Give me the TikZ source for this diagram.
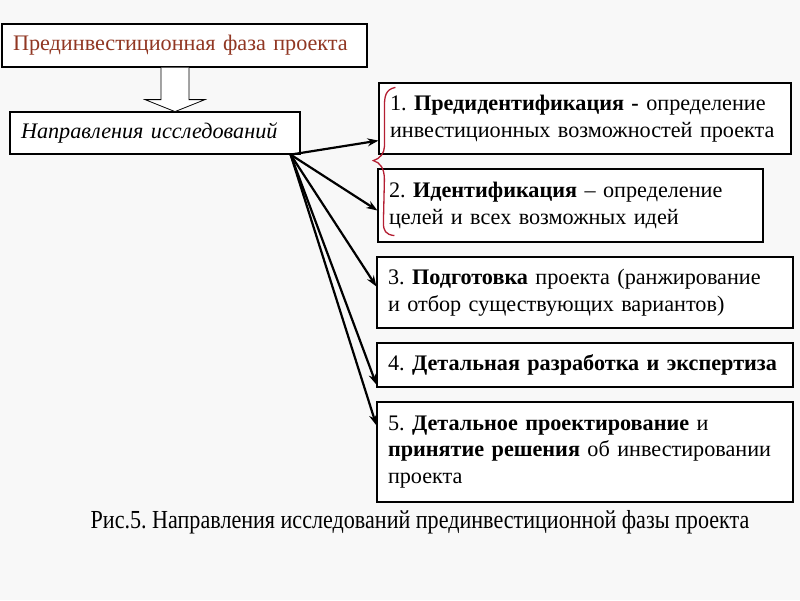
\documentclass[tikz,border=0pt]{standalone}
\usepackage{fontspec}
\setmainfont{Liberation Serif}
\newfontfamily\capfont[FakeStretch=0.85]{Liberation Serif}
\usetikzlibrary{arrows.meta}
\definecolor{bgc}{RGB}{248,248,248}
\definecolor{titlec}{RGB}{145,55,35}
\definecolor{bracec}{RGB}{180,30,50}
\tikzset{
  box/.style={draw=black, line width=1.2pt, fill=white, rectangle, inner xsep=11pt, inner ysep=0pt, align=left, font=\frenchspacing\fontsize{22.2}{26.5}\selectfont},
  conn/.style={line width=2.2pt, -{Stealth[length=11pt,width=8pt]}},
}
\begin{document}
\begin{tikzpicture}[x=1pt,y=-1pt]
\fill[bgc] (0,0) rectangle (800,600);
\useasboundingbox (0,0) rectangle (800,600);

\node[box, text=titlec, text width=343pt, minimum height=43pt] (n1) at (184.5,45.5) {Прединвестиционная фаза проекта};
\node[box, text width=268pt, minimum height=42pt] (n2) at (155,133) {\itshape Направления исследований};

% hollow arrow
\coordinate (ha) at ([xshift=-9.5pt]n1.south);
\draw[line width=0.8pt, fill=white] ([xshift=-14pt]ha) -- ([xshift=-14pt,yshift=-32pt]ha) -- ([xshift=-30pt,yshift=-32pt]ha) -- ([yshift=-44pt]ha) -- ([xshift=30pt,yshift=-32pt]ha) -- ([xshift=14pt,yshift=-32pt]ha) -- ([xshift=14pt]ha);

\node[box, text width=390pt, minimum height=71pt] (b1) at (585,118.5) {1. \textbf{Предидентификация -} определение\\инвестиционных возможностей проекта};
\node[box, text width=363pt, minimum height=73pt] (b2) at (570.5,205.5) {2. \textbf{Идентификация} – определение\\целей и всех возможных идей};
\node[box, text width=394pt, minimum height=71pt] (b3) at (585,292.5) {3. \textbf{Подготовка} проекта (ранжирование\\и отбор существующих вариантов)};
\node[box, text width=394pt, minimum height=44pt] (b4) at (585,365) {4. \textbf{Детальная разработка и экспертиза}};
\node[box, text width=394pt, minimum height=100pt] (b5) at (585,452) {5. \textbf{Детальное проектирование} и\\\textbf{принятие решения} об инвестировании\\проекта};

% brace
\draw[bracec, line width=1.3pt] ([xshift=17pt,yshift=-5pt]b1.north west) .. controls ([xshift=7pt,yshift=-7pt]b1.north west) and ([xshift=6pt,yshift=-14pt]b1.north west) .. ([xshift=6pt,yshift=-25pt]b1.north west)
  -- ([xshift=6pt,yshift=8pt]b1.south west) .. controls ([xshift=6pt,yshift=2pt]b1.south west) and ([xshift=2pt,yshift=-4pt]b1.south west) .. ([xshift=-5pt,yshift=-6pt]b1.south west)
  .. controls ([xshift=2pt,yshift=-8pt]b1.south west) and ([xshift=6pt,yshift=-14pt]b1.south west) .. ([xshift=6pt,yshift=-25pt]b1.south west)
  -- ([xshift=6pt,yshift=20pt]b2.south west) .. controls ([xshift=6pt,yshift=12pt]b2.south west) and ([xshift=8pt,yshift=8pt]b2.south west) .. ([xshift=17pt,yshift=7pt]b2.south west);

% connectors
\coordinate (s) at ([xshift=-10pt]n2.south east);
\draw[conn] (s) -- ([yshift=14pt]b1.south west);
\draw[conn] (s) -- ([yshift=-5pt]b2.west);
\draw[conn] (s) -- ([yshift=6pt]b3.west);
\draw[conn] (s) -- ([yshift=3pt]b4.south west);
\draw[conn] (s) -- ([yshift=-24pt]b5.north west);

\node[font=\frenchspacing\capfont\fontsize{26}{30}\selectfont, anchor=base] (cap) at (420,528) {Рис.5. Направления исследований прединвестиционной фазы проекта};
\end{tikzpicture}
\end{document}
